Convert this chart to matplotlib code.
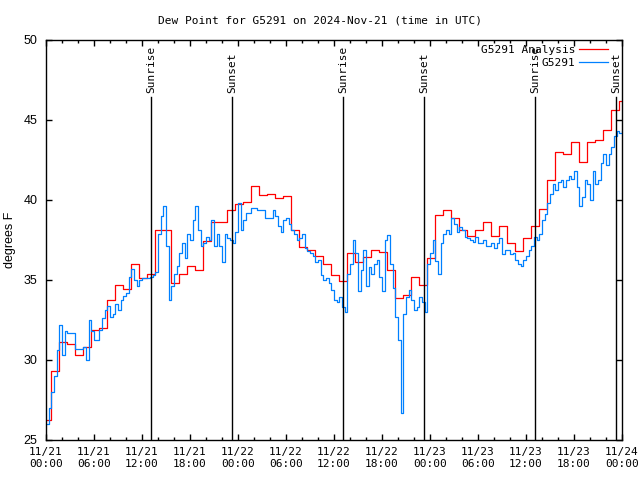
"""
Dew point chart for station G5291, 2024-Nov-21 .. 11/24 (UTC).
Hourly analysis (step) vs. station observations (step), sunrise/sunset markers.
"""

import matplotlib

matplotlib.use("Agg")
import matplotlib.pyplot as plt
import numpy as np

COLOR_ANALYSIS = "#ff0000"
COLOR_OBS = "#0080ff"
FONT_MONO = "DejaVu Sans Mono"
FONT_SANS = "Liberation Sans"

# hours since 2024-11-21 00:00 UTC
X_TICKS = [0, 6, 12, 18, 24, 30, 36, 42, 48, 54, 60, 66, 72]
X_TICK_LABELS = [
    "11/21\n00:00", "11/21\n06:00", "11/21\n12:00", "11/21\n18:00",
    "11/22\n00:00", "11/22\n06:00", "11/22\n12:00", "11/22\n18:00",
    "11/23\n00:00", "11/23\n06:00", "11/23\n12:00", "11/23\n18:00",
    "11/24\n00:00",
]
Y_TICKS = [25, 30, 35, 40, 45, 50]

# analysis: one value per hour, valid from hh-0:21 to hh+0:39
analysis_values = [
    26.25, 29.3, 31.15, 31.0, 30.3, 30.8, 31.9, 32.0, 33.75, 34.7,
    34.45, 36.0, 35.15, 35.4, 38.15, 38.15, 34.8, 35.4, 35.9, 35.65,
    37.45, 38.6, 38.65, 39.4, 39.75, 39.9, 40.9, 40.3, 40.35, 40.1,
    40.25, 38.15, 37.05, 36.9, 36.5, 36.0, 35.3, 34.95, 36.7, 36.1,
    36.45, 36.9, 36.75, 35.6, 33.9, 34.05, 35.2, 34.7, 36.35, 39.05,
    39.4, 38.85, 38.15, 37.75, 38.1, 38.65, 37.75, 38.4, 37.3, 36.8,
    37.6, 38.4, 39.45, 41.25, 43.0, 42.9, 43.6, 42.4, 43.6, 43.75,
    44.4, 45.6, 46.2,
]
analysis_hours = [0] + [h - 0.35 for h in range(1, 73)]

# station observations, every 20 minutes
obs_values = [
    26.0, 27.0, 28.0, 29.0, 30.6, 32.2, 30.3, 31.8, 31.7, 31.7,
    31.7, 30.7, 30.7, 30.7, 30.8, 30.0, 32.5, 31.8, 31.25, 31.25,
    31.9, 32.6, 33.1, 33.4, 32.7, 32.9, 33.5, 33.1, 33.75, 34.0,
    34.2, 35.2, 35.7, 35.0, 34.6, 35.0, 35.1, 35.1, 35.1, 35.2,
    35.3, 35.5, 37.9, 39.0, 39.6, 37.1, 33.75, 34.6, 35.4, 35.9,
    36.7, 37.3, 36.35, 37.9, 37.5, 38.75, 39.6, 38.1, 37.1, 37.3,
    37.7, 37.5, 38.75, 37.1, 37.9, 37.1, 36.1, 37.9, 37.6, 37.5,
    37.3, 38.0, 39.8, 38.1, 38.75, 39.2, 39.2, 39.5, 39.5, 39.4,
    39.4, 39.4, 38.85, 38.85, 38.85, 39.4, 39.0, 38.4, 38.0, 38.75,
    38.85, 38.5, 38.1, 37.9, 37.5, 37.6, 37.9, 37.0, 36.8, 36.7,
    36.5, 36.15, 36.25, 35.3, 35.0, 35.1, 34.8, 34.4, 33.75, 33.65,
    33.95, 33.3, 33.0, 35.4, 36.0, 37.5, 36.7, 34.3, 35.6, 36.9,
    34.6, 35.8, 35.4, 36.0, 36.25, 35.2, 34.3, 37.5, 37.8, 36.0,
    34.5, 32.7, 31.25, 26.7, 32.9, 33.96, 34.4, 33.75, 33.1, 33.3,
    33.96, 33.65, 33.0, 36.0, 36.7, 37.5, 36.2, 35.4, 37.3, 37.9,
    38.1, 37.9, 38.85, 38.5, 38.0, 38.3, 38.1, 37.7, 37.6, 37.5,
    37.4, 37.7, 37.3, 37.3, 37.5, 37.1, 37.1, 37.3, 37.0, 37.3,
    37.6, 36.6, 36.9, 36.9, 36.6, 36.7, 36.25, 36.0, 35.9, 36.25,
    36.5, 36.9, 37.1, 37.7, 37.5, 37.9, 38.75, 39.1, 39.8, 40.4,
    41.0, 40.6, 41.1, 41.25, 40.8, 41.25, 41.5, 41.3, 41.8, 40.8,
    39.6, 40.2, 41.25, 41.0, 40.0, 41.8, 41.0, 41.25, 42.3, 42.9,
    42.2, 42.9, 43.3, 44.0, 44.3, 44.2, 44.3,
]
obs_hours = np.arange(len(obs_values)) / 3.0

sun_events = [13.17, 23.3, 37.17, 47.3, 61.17, 71.25]
sun_labels = ["Sunrise", "Sunset", "Sunrise", "Sunset", "Sunrise", "Sunset"]
SUN_LINE_TOP = 46.45


def make_chart(output_path):
    fig = plt.figure(figsize=(6.4, 4.8), dpi=100)
    ax = fig.add_axes([46 / 640, 40 / 480, 576 / 640, 400 / 480])

    a_x = np.append(analysis_hours, 72)
    a_y = np.append(analysis_values, analysis_values[-1])
    ax.step(a_x, a_y, where="post", color=COLOR_ANALYSIS, lw=0.9, label="G5291 Analysis")
    ax.step(obs_hours, obs_values, where="post", color=COLOR_OBS, lw=0.9, label="G5291")

    for hour, label in zip(sun_events, sun_labels):
        ax.plot([hour, hour], [25, SUN_LINE_TOP], color="black", lw=1.0)
        ax.text(hour, SUN_LINE_TOP + 0.25, label, rotation=90, ha="center", va="bottom",
                fontsize=8, family=FONT_MONO)

    ax.set_xlim(0, 72)
    ax.set_ylim(25, 50)
    ax.set_xticks(X_TICKS)
    ax.set_xticklabels(X_TICK_LABELS, family=FONT_MONO, fontsize=8)
    ax.set_xticks(np.arange(0, 73, 2), minor=True)
    ax.set_yticks(Y_TICKS)
    ax.set_yticklabels([str(v) for v in Y_TICKS], family=FONT_SANS, fontsize=9)
    ax.tick_params(which="both", direction="in", top=True, right=True, width=1.0)
    ax.tick_params(which="major", length=4)
    ax.tick_params(which="minor", length=2.5)
    ax.tick_params(axis="x", pad=5)
    ax.tick_params(axis="y", pad=6)
    for spine in ax.spines.values():
        spine.set_linewidth(1.0)

    ax.set_ylabel("degrees F", family=FONT_SANS, fontsize=9, va="center")
    ax.yaxis.set_label_coords(-36 / 576, 0.5)
    fig.text(0.5, 0.958, "Dew Point for G5291 on 2024-Nov-21 (time in UTC)",
             ha="center", va="center", family=FONT_MONO, fontsize=8)

    ax.legend(loc="upper right", bbox_to_anchor=(1 - 7 / 576, 1 + 2 / 400), frameon=False,
              markerfirst=False, prop={"family": FONT_MONO, "size": 8}, handlelength=2.6,
              handletextpad=0.4, labelspacing=0.3, borderaxespad=0.2)

    fig.savefig(output_path, dpi=100, facecolor="white")
    plt.close(fig)


def main():
    make_chart("out.png")


if __name__ == "__main__":
    main()
